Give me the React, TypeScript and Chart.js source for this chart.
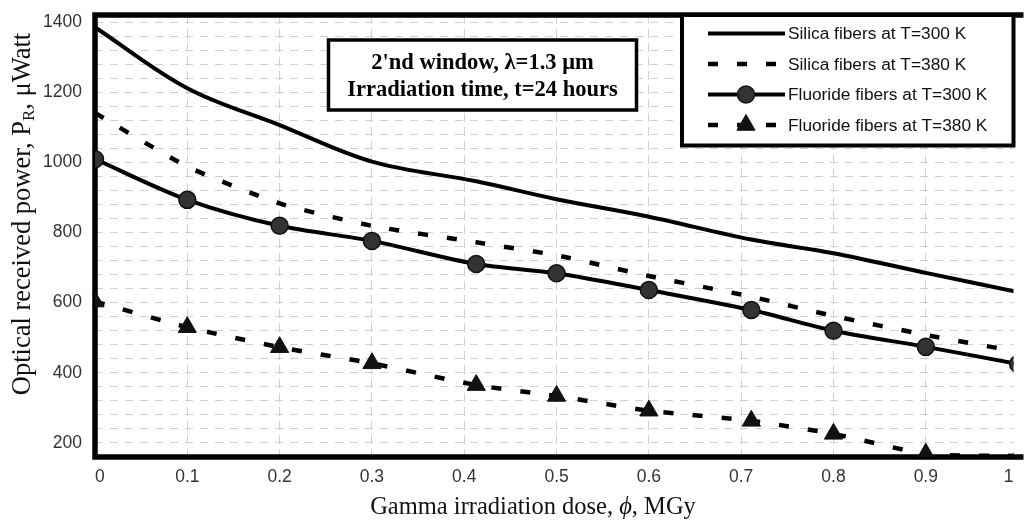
import React, { useEffect, useRef } from "react";
import { Chart, registerables } from "chart.js";

Chart.register(...registerables);

// ---- data ----
const doseMGy = [0, 0.1, 0.2, 0.3, 0.413, 0.5, 0.6, 0.711, 0.8, 0.9, 1.0];
const silica300K = [1385, 1211, 1106, 1002, 946, 895, 845, 780, 741, 685, 630];
const silica380K = [1141, 988, 883, 819, 772, 735, 676, 617, 562, 508, 460];
const fluoride300K = [1009, 893, 819, 776, 710, 684, 636, 579, 520, 474, 425];
const fluoride380K = [603, 530, 473, 427, 365, 334, 292, 263, 226, 169, 163];
const seriesLabels = [
  "Silica fibers at T=300 K",
  "Silica fibers at T=380 K",
  "Fluoride fibers at T=300 K",
  "Fluoride fibers at T=380 K",
];
const yMin = 160;
const yMax = 1420;
const yTickStep = 20;
const yGridStep = 40;
const yLabelStep = 200;
const xMin = 0;
const xMax = 0.995;
const xStep = 0.1;
const noteLines = ["2'nd window, \u03bb=1.3 \u03bcm", "Irradiation time, t=24 hours"];
const xTitleParts = ["Gamma irradiation dose,", "\u03d5", ", MGy"];
const yTitleParts = ["Optical received power, P", "R", ", \u03bcWatt"];

const SERIF = "'Liberation Serif', 'Times New Roman', serif";
const SANS = "'Liberation Sans', Arial, sans-serif";

function toPoints(ys: number[]) {
  return doseMGy.map((x, i) => ({ x, y: ys[i] }));
}

function drawMarker(ctx: CanvasRenderingContext2D, style: string, x: number, y: number, r: number, fill: string, stroke: string, bw: number) {
  ctx.save();
  ctx.setLineDash([]);
  ctx.beginPath();
  if (style === "triangle") {
    let rad = 0;
    const T = (2 * Math.PI) / 3;
    ctx.moveTo(x + Math.sin(rad) * r, y - Math.cos(rad) * r);
    rad += T;
    ctx.lineTo(x + Math.sin(rad) * r, y - Math.cos(rad) * r);
    rad += T;
    ctx.lineTo(x + Math.sin(rad) * r, y - Math.cos(rad) * r);
    ctx.closePath();
  } else {
    ctx.arc(x, y, r, 0, Math.PI * 2);
  }
  ctx.fillStyle = fill;
  ctx.fill();
  ctx.lineWidth = bw;
  ctx.strokeStyle = stroke;
  ctx.stroke();
  ctx.restore();
}

const framePlugin = {
  id: "frame",
  beforeDatasetsDraw(chart: any) {
    const { ctx, chartArea: a } = chart;
    ctx.save();
    ctx.strokeStyle = "#000";
    ctx.lineWidth = 5.5;
    ctx.lineJoin = "miter";
    ctx.beginPath();
    ctx.moveTo(a.right + 10, a.top);
    ctx.lineTo(a.left, a.top);
    ctx.lineTo(a.left, a.bottom);
    ctx.lineTo(a.right + 10, a.bottom);
    ctx.stroke();
    ctx.restore();
  },
};

const decorPlugin = {
  id: "decor",
  afterDraw(chart: any) {
    const { ctx } = chart;
    ctx.save();

    // note box
    const bx = 328.5, by = 40, bw = 308, bh = 70;
    ctx.fillStyle = "#fff";
    ctx.fillRect(bx, by, bw, bh);
    ctx.lineWidth = 3.5;
    ctx.strokeStyle = "#000";
    ctx.strokeRect(bx, by, bw, bh);
    ctx.fillStyle = "#000";
    ctx.font = `bold 22.5px ${SERIF}`;
    ctx.textAlign = "center";
    ctx.textBaseline = "middle";
    ctx.fillText(noteLines[0], bx + bw / 2, by + 23);
    ctx.fillText(noteLines[1], bx + bw / 2, by + 50);

    // legend box
    const lx = 682, ly = 15, lw = 331.5, lh = 130.5;
    ctx.fillStyle = "#fff";
    ctx.fillRect(lx, ly, lw, lh);
    ctx.lineWidth = 4;
    ctx.strokeStyle = "#000";
    ctx.strokeRect(lx, ly, lw, lh);
    chart.data.datasets.forEach((ds: any, i: number) => {
      const y = ly + 18.5 + i * 30.5;
      ctx.save();
      ctx.setLineDash(ds.borderDash || []);
      ctx.lineWidth = ds.borderWidth;
      ctx.strokeStyle = ds.borderColor;
      ctx.beginPath();
      ctx.moveTo(708, y);
      ctx.lineTo(785, y);
      ctx.stroke();
      ctx.restore();
      if (ds.pointRadius > 0) {
        drawMarker(ctx, ds.pointStyle, 746, y, ds.pointRadius, ds.pointBackgroundColor, ds.pointBorderColor, ds.pointBorderWidth);
      }
      ctx.fillStyle = "#111";
      ctx.font = `17.3px ${SANS}`;
      ctx.textAlign = "left";
      ctx.textBaseline = "middle";
      ctx.fillText(ds.label, 788, y + 1);
    });

    // x title
    ctx.fillStyle = "#111";
    ctx.textBaseline = "middle";
    ctx.textAlign = "left";
    const fx = `24.5px ${SERIF}`;
    const fxi = `italic 24.5px ${SERIF}`;
    ctx.font = fx;
    const w0 = ctx.measureText(xTitleParts[0] + " ").width;
    ctx.font = fxi;
    const w1 = ctx.measureText(xTitleParts[1]).width;
    ctx.font = fx;
    const w2 = ctx.measureText(xTitleParts[2]).width;
    let tx = 533 - (w0 + w1 + w2) / 2;
    const ty = 508;
    ctx.font = fx;
    ctx.fillText(xTitleParts[0] + " ", tx, ty);
    tx += w0;
    ctx.font = fxi;
    ctx.fillText(xTitleParts[1], tx, ty);
    tx += w1;
    ctx.font = fx;
    ctx.fillText(xTitleParts[2], tx, ty);

    // y title (rotated, with subscript)
    ctx.save();
    ctx.translate(22, 214);
    ctx.rotate(-Math.PI / 2);
    const fy = `26.5px ${SERIF}`;
    const fys = `17px ${SERIF}`;
    ctx.font = fy;
    const a0 = ctx.measureText(yTitleParts[0]).width;
    ctx.font = fys;
    const a1 = ctx.measureText(yTitleParts[1]).width;
    ctx.font = fy;
    const a2 = ctx.measureText(yTitleParts[2]).width;
    let px = -(a0 + a1 + a2) / 2;
    ctx.textBaseline = "alphabetic";
    ctx.font = fy;
    ctx.fillText(yTitleParts[0], px, 8);
    px += a0;
    ctx.font = fys;
    ctx.fillText(yTitleParts[1], px, 12);
    px += a1;
    ctx.font = fy;
    ctx.fillText(yTitleParts[2], px, 8);
    ctx.restore();

    ctx.restore();
  },
};

function isMult(v: number, step: number) {
  const q = v / step;
  return Math.abs(q - Math.round(q)) < 1e-6;
}

export default function App() {
  const ref = useRef<HTMLCanvasElement>(null);
  useEffect(() => {
    document.body.style.margin = "0";
    const chart = new Chart(ref.current as HTMLCanvasElement, {
      type: "line",
      data: {
        datasets: [
          {
            label: seriesLabels[0],
            data: toPoints(silica300K),
            borderColor: "#000",
            borderWidth: 4,
            borderDash: [],
            pointRadius: 0,
            tension: 0.35,
          },
          {
            label: seriesLabels[1],
            data: toPoints(silica380K),
            borderColor: "#000",
            borderWidth: 4.5,
            borderDash: [10, 19],
            pointRadius: 0,
            tension: 0.2,
          },
          {
            label: seriesLabels[2],
            data: toPoints(fluoride300K),
            borderColor: "#000",
            borderWidth: 4,
            borderDash: [],
            pointStyle: "circle",
            pointRadius: 8.5,
            pointBackgroundColor: "#333",
            pointBorderColor: "#111",
            pointBorderWidth: 1.5,
            tension: 0.3,
          },
          {
            label: seriesLabels[3],
            data: toPoints(fluoride380K),
            borderColor: "#000",
            borderWidth: 4.5,
            borderDash: [10, 19],
            pointStyle: "triangle",
            pointRadius: 10.5,
            pointBackgroundColor: "#111",
            pointBorderColor: "#111",
            pointBorderWidth: 1,
            tension: 0.2,
          },
        ] as any,
      },
      options: {
        responsive: false,
        animation: false,
        events: [],
        layout: { padding: { top: 15, left: 0, right: 0, bottom: 0 } },
        plugins: { legend: { display: false }, tooltip: { enabled: false } },
        scales: {
          x: {
            type: "linear",
            min: xMin,
            max: xMax,
            afterFit: (s: any) => {
              s.height = 65;
              s.paddingLeft = 0;
              s.paddingRight = 0;
            },
            ticks: {
              stepSize: xStep,
              autoSkip: false,
              maxRotation: 0,
              align: "inner",
              padding: 10,
              color: "#333",
              font: { family: SANS, size: 17.5 },
              callback: (v: any) => {
                const n = Number(v);
                if (n > 0.99) return "1";
                if (!isMult(n, xStep)) return "";
                return String(Math.round(n * 10) / 10);
              },
            },
            grid: {
              drawTicks: false,
              lineWidth: 1,
              color: (c: any) => (c.tick && isMult(c.tick.value, xStep) ? "#d0d0d0" : "rgba(0,0,0,0)"),
            },
            border: { display: false, dash: [9, 5] },
          },
          y: {
            type: "linear",
            min: yMin,
            max: yMax,
            afterFit: (s: any) => {
              s.width = 95;
              s.paddingTop = 0;
              s.paddingBottom = 0;
            },
            ticks: {
              stepSize: yTickStep,
              autoSkip: false,
              padding: 13,
              color: "#333",
              font: { family: SANS, size: 17.5 },
              callback: (v: any) => (isMult(Number(v), yLabelStep) ? String(v) : ""),
            },
            grid: {
              drawTicks: false,
              lineWidth: 1,
              color: (c: any) => (c.tick && isMult(c.tick.value, yGridStep) ? "#d0d0d0" : "rgba(0,0,0,0)"),
            },
            border: { display: false, dash: [8, 7] },
          },
        },
      } as any,
      plugins: [framePlugin, decorPlugin],
    });
    return () => chart.destroy();
  }, []);
  return (
    <div style={{ width: 1025, height: 522 }}>
      <canvas ref={ref} width={1025} height={522} style={{ display: "block" }} />
    </div>
  );
}
